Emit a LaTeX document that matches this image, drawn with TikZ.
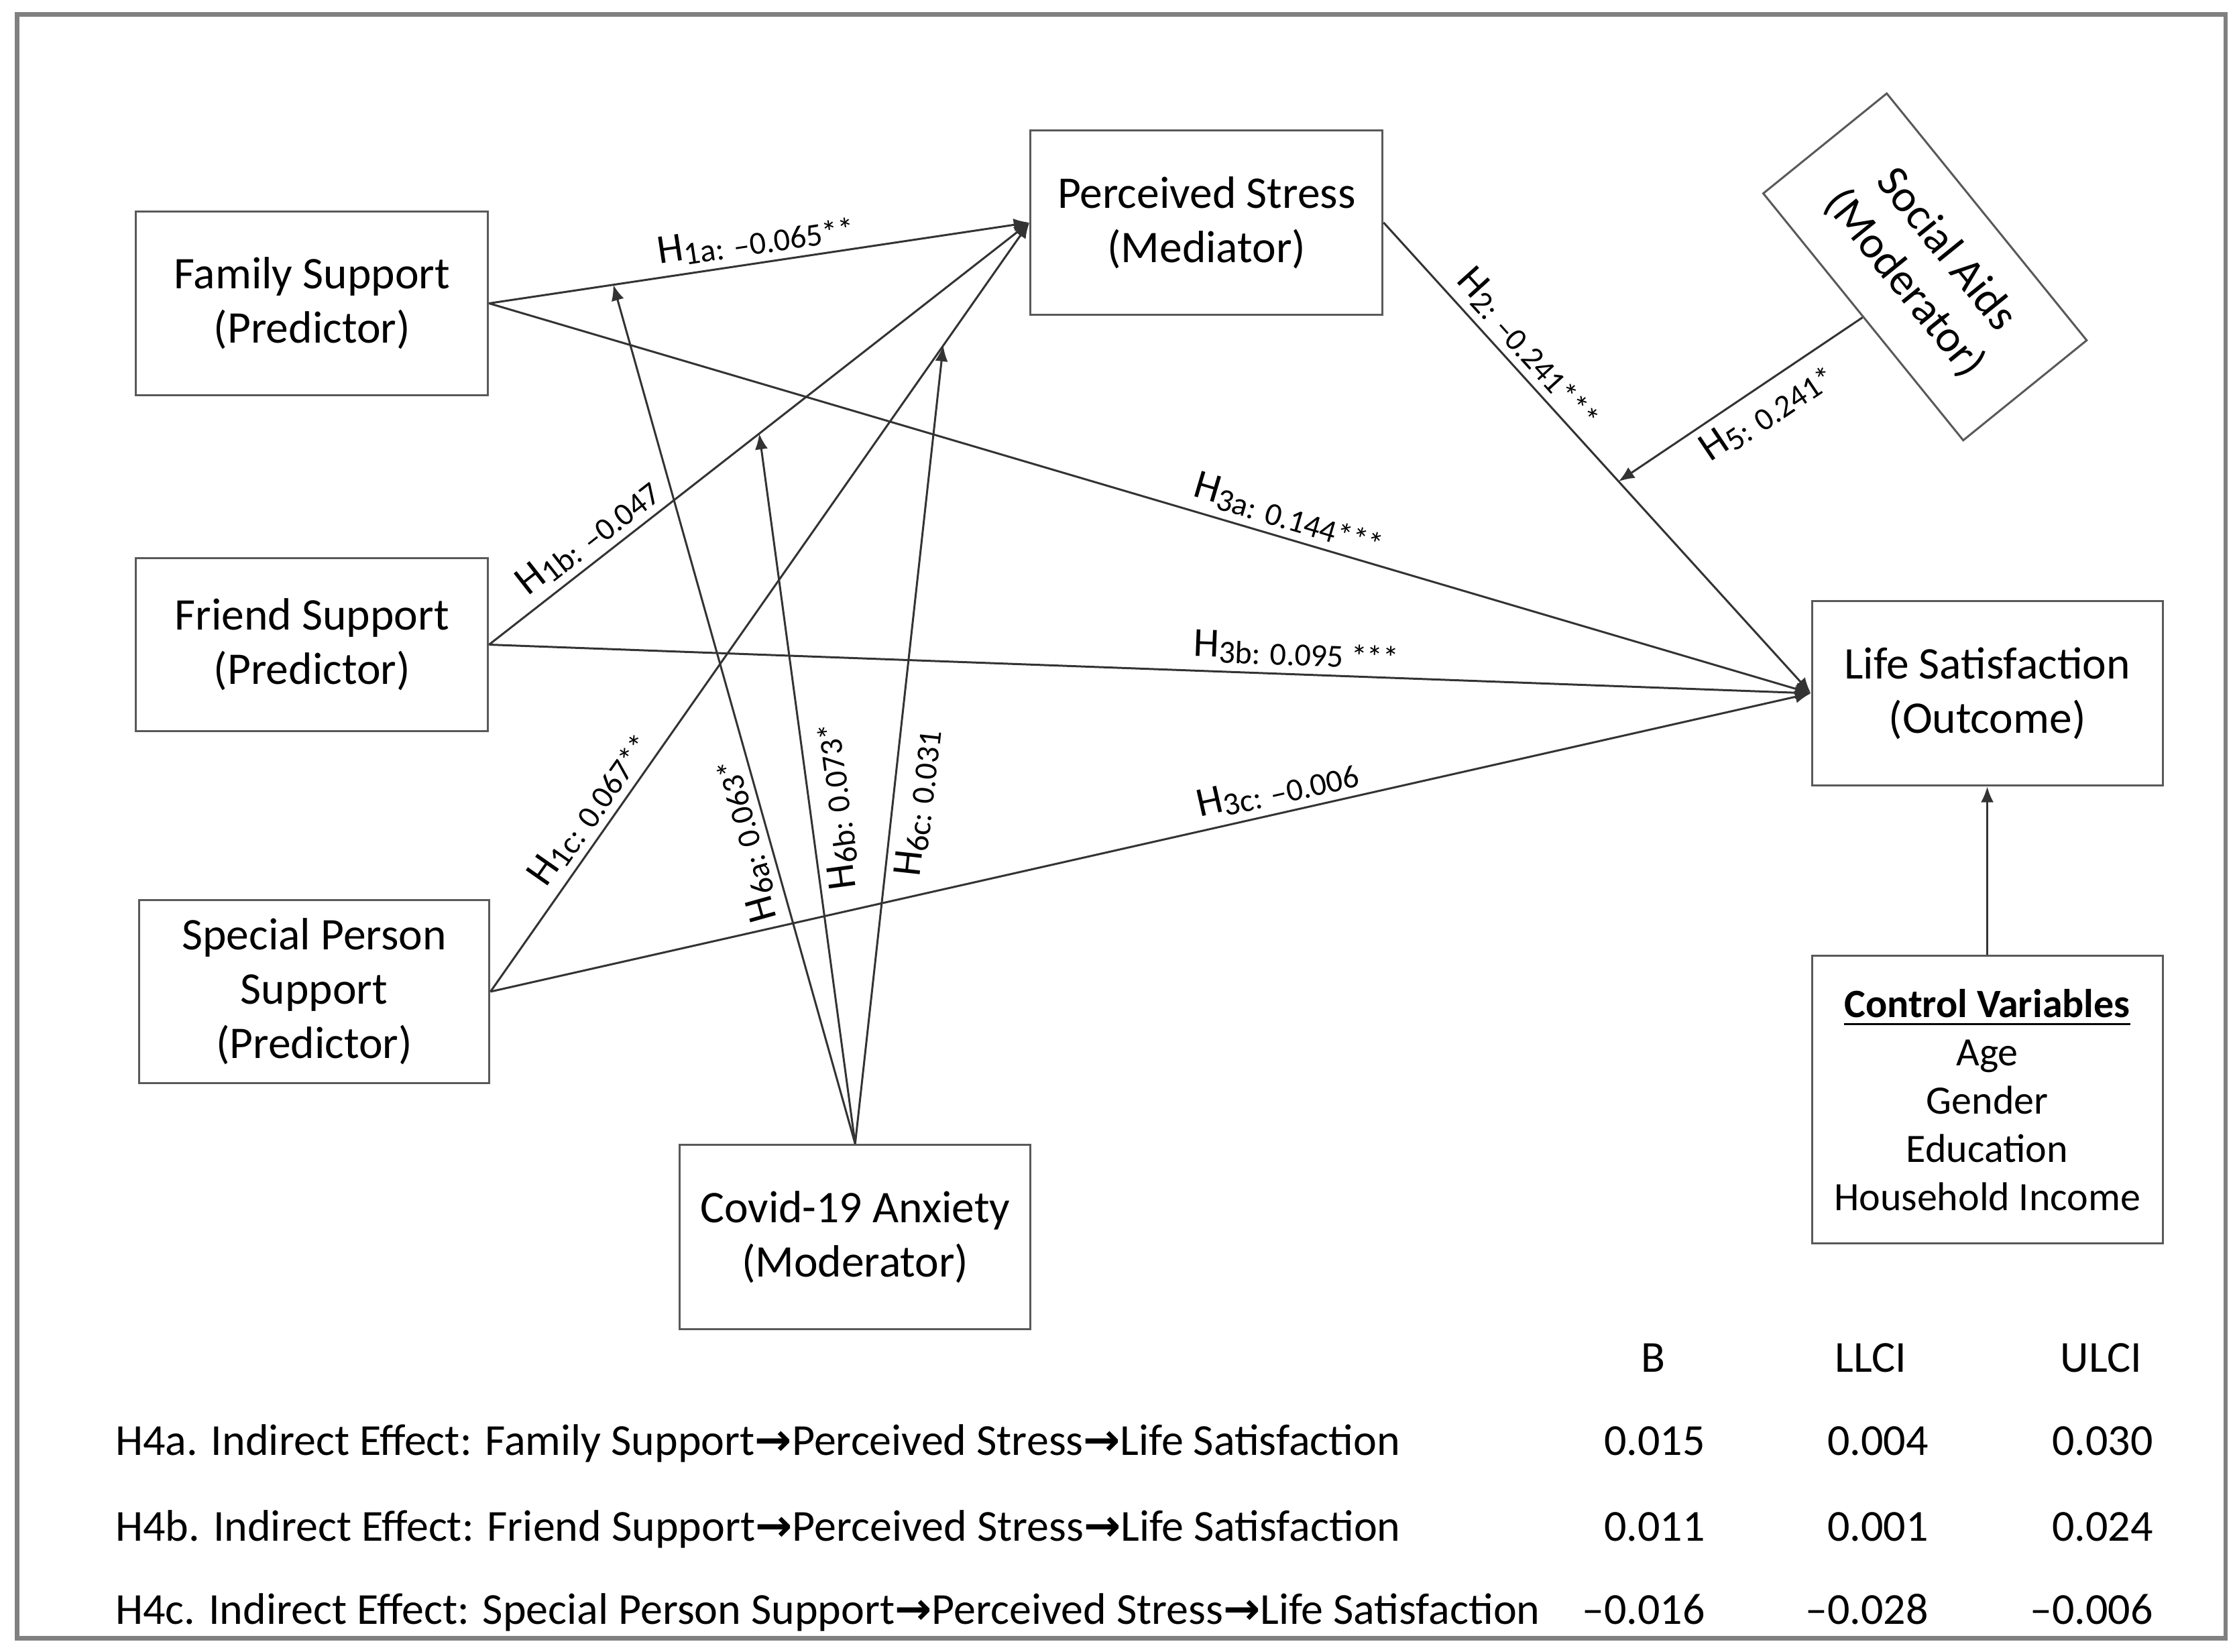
\documentclass[tikz,border=0pt]{standalone}
\usepackage{fontspec}
\setmainfont{Carlito}
\newfontfamily\arrfont{DejaVu Sans}
\usetikzlibrary{arrows.meta}
\newcommand{\hlab}[1]{H{\fontsize{6.4}{7}\selectfont\raisebox{-0.35ex}{#1}}}
\newcommand{\arr}{{\arrfont\bfseries →}}

\begin{document}
\begin{tikzpicture}[>={Latex[length=1.1mm,width=0.9mm]},
                    box/.style={draw=black!65, align=center, font=\fontsize{9}{10.8}\selectfont, inner sep=2pt},
                    lab/.style={font=\fontsize{8.2}{9}\selectfont, inner sep=1.5pt, sloped},
                    link/.style={->, draw=black!80, thin},
                    tab/.style={font=\fontsize{8.8}{10.6}\selectfont, inner sep=0pt}]
                    \useasboundingbox (0,0) rectangle (15.63,11.54);
                    \draw[black!50, line width=0.9pt] (0.12,0.09) rectangle (15.55,11.44);
                    \node[box, minimum width=2.46cm, minimum height=1.28cm] (FS) at (2.18,9.42) {Family Support\\(Predictor)};
                    \node[box, minimum width=2.46cm, minimum height=1.21cm] (FR) at (2.18,7.035) {Friend Support\\(Predictor)};
                    \node[box, minimum width=2.45cm, minimum height=1.28cm] (SP) at (2.195,4.61) {Special Person\\Support\\(Predictor)};
                    \node[box, minimum width=2.46cm, minimum height=1.29cm] (PS) at (8.43,9.985) {Perceived Stress\\(Mediator)};
                    \node[box, rotate=-51, minimum width=2.22cm, minimum height=1.11cm] (SA) at (13.45,9.675) {Social Aids\\(Moderator)};
                    \node[box, minimum width=2.45cm, minimum height=1.29cm] (LS) at (13.885,6.695) {Life Satisfaction\\(Outcome)};
                    \node[box, font=\fontsize{8}{9.6}\selectfont, minimum width=2.45cm, minimum height=2.01cm] (CV) at (13.885,3.855) {\textbf{\underline{Control Variables}}\\Age\\Gender\\Education\\Household Income};
                    \node[box, minimum width=2.45cm, minimum height=1.29cm] (CA) at (5.975,2.895) {Covid-19 Anxiety\\(Moderator)};
                    \draw[link] (FS.east) -- node[lab, above]{\hlab{1a: –0.065**}} coordinate[pos=0.23] (M6a) (PS.west);
                    \draw[link] (FS.east) -- node[lab, above, pos=0.6]{\hlab{3a: 0.144***}} (LS.west);
                    \draw[link] (FR.east) -- node[lab, above, pos=0.21]{\hlab{1b: –0.047}} coordinate[pos=0.5] (M6b) (PS.west);
                    \draw[link] (FR.east) -- node[lab, above, pos=0.61]{\hlab{3b: 0.095 ***}} (LS.west);
                    \draw[link] (SP.east) -- node[lab, above, pos=0.22]{\hlab{1c: 0.067**}} coordinate[pos=0.84] (M6c) (PS.west);
                    \draw[link] (SP.east) -- node[lab, above, pos=0.6]{\hlab{3c: –0.006}} (LS.west);
                    \draw[link] (PS.east) -- node[lab, above, pos=0.3]{\hlab{2: –0.241***}} coordinate[pos=0.55] (M5) (LS.west);
                    \draw[link] (SA.south) -- node[lab, below, pos=0.45]{\hlab{5: 0.241*}} (M5);
                    \draw[link] (CV.north) -- (LS.south);
                    \draw[link] (CA.north) -- node[lab, above, allow upside down, pos=0.36]{\hlab{6a: 0.063*}} (M6a);
                    \draw[link] (CA.north) -- node[lab, below, allow upside down, pos=0.47]{\hlab{6b: 0.073*}} (M6b);
                    \draw[link] (CA.north) -- node[lab, below, pos=0.43]{\hlab{6c: 0.031}} (M6c);
                    \node[tab, anchor=base] (TB) at (11.55,1.95) {B};
                    \node[tab, anchor=base] (TL) at (13.07,1.95) {LLCI};
                    \node[tab, anchor=base] (TU) at (14.68,1.95) {ULCI};
                    \node[tab, anchor=base west] (R1) at (0.80,1.37) {H4a. Indirect Effect: Family Support\arr Perceived Stress\arr Life Satisfaction};
                    \node[tab, anchor=base east] (R1B) at (11.92,1.37) {0.015};
                    \node[tab, anchor=base east] (R1L) at (13.48,1.37) {0.004};
                    \node[tab, anchor=base east] (R1U) at (15.05,1.37) {0.030};
                    \node[tab, anchor=base west] (R2) at (0.80,0.77) {H4b. Indirect Effect: Friend Support\arr Perceived Stress\arr Life Satisfaction};
                    \node[tab, anchor=base east] (R2B) at (11.92,0.77) {0.011};
                    \node[tab, anchor=base east] (R2L) at (13.48,0.77) {0.001};
                    \node[tab, anchor=base east] (R2U) at (15.05,0.77) {0.024};
                    \node[tab, anchor=base west] (R3) at (0.80,0.19) {H4c. Indirect Effect: Special Person Support\arr Perceived Stress\arr Life Satisfaction};
                    \node[tab, anchor=base east] (R3B) at (11.92,0.19) {–0.016};
                    \node[tab, anchor=base east] (R3L) at (13.48,0.19) {–0.028};
                    \node[tab, anchor=base east] (R3U) at (15.05,0.19) {–0.006};
                \end{tikzpicture}
\end{document}
